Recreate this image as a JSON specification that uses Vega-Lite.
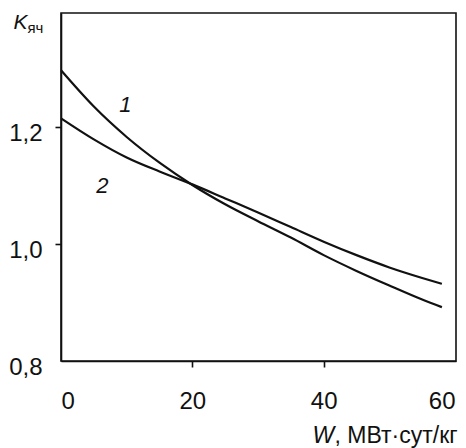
{
  "$schema": "https://vega.github.io/schema/vega-lite/v6.json",
  "width": 395,
  "height": 348,
  "autosize": {"type": "none"},
  "padding": {"left": 61, "top": 13, "right": 10, "bottom": 87},
  "background": "white",
  "config": {
    "font": "Liberation Sans",
    "view": {"stroke": "#111", "strokeWidth": 1.6},
    "axis": {
      "grid": false,
      "domainColor": "#111",
      "domainWidth": 1.6,
      "tickColor": "#111",
      "tickWidth": 1.6,
      "labelColor": "#111",
      "titleColor": "#111",
      "labelFont": "Liberation Sans",
      "titleFont": "Liberation Sans",
      "titleFontWeight": "normal"
    }
  },
  "datasets": {
    "curves": [
      {"curve": "1", "W": 0, "K": 1.297},
      {"curve": "1", "W": 5, "K": 1.235},
      {"curve": "1", "W": 10, "K": 1.183},
      {"curve": "1", "W": 15, "K": 1.139},
      {"curve": "1", "W": 20, "K": 1.101},
      {"curve": "1", "W": 25, "K": 1.068},
      {"curve": "1", "W": 30, "K": 1.039},
      {"curve": "1", "W": 35, "K": 1.011},
      {"curve": "1", "W": 40, "K": 0.981},
      {"curve": "1", "W": 45, "K": 0.954},
      {"curve": "1", "W": 50, "K": 0.929},
      {"curve": "1", "W": 55, "K": 0.905},
      {"curve": "1", "W": 58, "K": 0.892},
      {"curve": "2", "W": 0, "K": 1.215},
      {"curve": "2", "W": 5, "K": 1.179},
      {"curve": "2", "W": 10, "K": 1.148},
      {"curve": "2", "W": 15, "K": 1.124},
      {"curve": "2", "W": 20, "K": 1.102},
      {"curve": "2", "W": 25, "K": 1.078},
      {"curve": "2", "W": 30, "K": 1.054},
      {"curve": "2", "W": 35, "K": 1.029},
      {"curve": "2", "W": 40, "K": 1.004},
      {"curve": "2", "W": 45, "K": 0.981},
      {"curve": "2", "W": 50, "K": 0.96},
      {"curve": "2", "W": 55, "K": 0.942},
      {"curve": "2", "W": 58, "K": 0.932}
    ],
    "labels": [
      {"W": 9.8, "K": 1.238, "label": "1"},
      {"W": 6.3, "K": 1.1, "label": "2"}
    ]
  },
  "layer": [
    {
      "data": {"name": "curves"},
      "mark": {"type": "line", "interpolate": "monotone", "color": "#111", "strokeWidth": 2.2},
      "encoding": {
        "x": {
          "field": "W", "type": "quantitative",
          "scale": {"domain": [0, 60.15], "nice": false},
          "axis": {
            "orient": "bottom", "values": [0, 20, 40, 60], "ticks": false, "tickSize": 0,
            "labelFontSize": 24, "labelPadding": 28, "labelFlush": true, "format": "d",
            "title": ", МВт·сут/кг", "titleFontSize": 23, "titleAlign": "left",
            "titleX": 273, "titleY": 81.5, "titleBaseline": "alphabetic"
          }
        },
        "y": {
          "field": "K", "type": "quantitative",
          "scale": {"domain": [0.8, 1.395], "nice": false, "zero": false},
          "axis": {
            "orient": "left", "values": [0.8, 1.0, 1.2], "ticks": false, "tickSize": 0,
            "labelFontSize": 24, "labelPadding": 19, "labelOffset": 6,
            "labelExpr": "replace(format(datum.value, '.1f'), '.', ',')",
            "title": "K", "titleAngle": 0, "titleAlign": "left", "titleBaseline": "alphabetic",
            "titleX": -48, "titleY": 15, "titleFontSize": 21, "titleFontStyle": "italic"
          }
        },
        "detail": {"field": "curve"}
      }
    },
    {
      "data": {"name": "labels"},
      "mark": {"type": "text", "fontSize": 22, "fontStyle": "italic", "color": "#111", "align": "center", "baseline": "middle"},
      "encoding": {
        "x": {
          "field": "W", "type": "quantitative",
          "axis": {
            "orient": "bottom", "values": [20, 40], "domain": false, "labels": false,
            "ticks": true, "tickSize": 6,
            "title": "W", "titleFontStyle": "italic", "titleFontSize": 23, "titleAlign": "left",
            "titleX": 251, "titleY": 81.5, "titleBaseline": "alphabetic"
          }
        },
        "y": {
          "field": "K", "type": "quantitative",
          "axis": {
            "orient": "left", "values": [1.0, 1.2], "domain": false, "labels": false,
            "ticks": true, "tickSize": 6,
            "title": "яч", "titleAngle": 0, "titleAlign": "left", "titleBaseline": "alphabetic",
            "titleX": -34, "titleY": 19, "titleFontSize": 15
          }
        },
        "text": {"field": "label"}
      }
    }
  ],
  "resolve": {"axis": {"x": "independent", "y": "independent"}}
}
